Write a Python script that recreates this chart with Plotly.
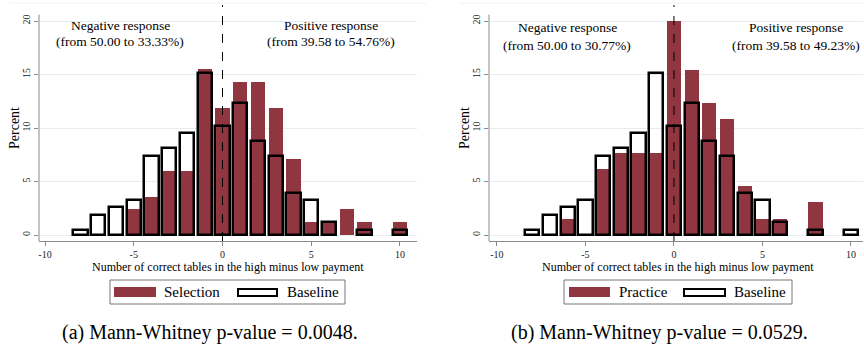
import plotly.graph_objects as go

# ---------------- data ----------------
bins = list(range(-8, 11))  # -8 .. 10
selection = [None, None, None, 2.4, 3.6, 6.0, 6.0, 15.5, 11.9, 14.3, 14.3, 11.9, 7.1, 1.2, 1.2, 2.4, 1.2, None, 1.2]
practice = [None, None, 1.5, None, 6.2, 7.7, 7.7, 7.7, 20.0, 15.4, 12.3, 10.8, 4.6, 1.5, 1.5, None, 3.1, None, None]
baseline = [0.5, 1.9, 2.6, 3.3, 7.4, 8.1, 9.5, 15.1, 10.2, 12.3, 8.8, 7.4, 3.9, 3.3, 1.2, None, 0.5, None, 0.5]

x_tick_vals = [-10, -5, 0, 5, 10]
x_tick_labels = ["-10", "-5", "0", "5", "10"]
y_tick_vals = [0, 5, 10, 15, 20]
y_tick_labels = ["0", "5", "10", "15", "20"]

panels = [
    dict(name="Selection", values=selection,
         neg=("Negative response", "(from 50.00 to 33.33%)"),
         pos=("Positive response", "(from 39.58 to 54.76%)"),
         caption="(a) Mann-Whitney p-value = 0.0048."),
    dict(name="Practice", values=practice,
         neg=("Negative response", "(from 50.00 to 30.77%)"),
         pos=("Positive response", "(from 39.58 to 49.23%)"),
         caption="(b) Mann-Whitney p-value = 0.0529."),
]

# ---------------- style ----------------
W, H = 864, 356
RED = "#8f3640"
GRID = "#e4edf0"
AXIS = "#8a8a8a"
SERIF = "Liberation Serif"


def px(x):
    return x / W


def py(y):
    return 1 - y / H


# per-panel pixel geometry
geo = [
    dict(x0=39, x1=417, xr=[-10.34, 10.96], negx=120, posx=331, ty=(26, 42), title_x=228,
         leg=(110, 345), sw=(114, 156), lab1=(162,), box=(238, 277), lab2=(285,), cap_x=210),
    dict(x0=489, x1=863, xr=[-10.45, 10.68], negx=567, posx=796, ty=(28, 45), title_x=678,
         leg=(564, 792), sw=(569, 610), lab1=(617,), box=(684, 725), lab2=(732,), cap_x=659),
]
Y_TOP, Y_BOT = 5, 241
YR = [-0.56, 21.5]

fig = go.Figure()
shapes = []
annotations = []
layout_axes = {}

for i, (p, g) in enumerate(zip(panels, geo)):
    sfx = "" if i == 0 else str(i + 1)
    xa, ya = "x" + sfx, "y" + sfx
    fig.add_trace(go.Bar(x=bins, y=p["values"], width=0.8, name=p["name"],
                         marker=dict(color=RED, line=dict(width=0)),
                         xaxis=xa, yaxis=ya, showlegend=False))
    fig.add_trace(go.Bar(x=bins, y=baseline, width=0.8, name="Baseline",
                         marker=dict(color="rgba(0,0,0,0)", line=dict(color="black", width=2.5)),
                         xaxis=xa, yaxis=ya, showlegend=False))

    layout_axes["xaxis" + sfx] = dict(
        domain=[px(g["x0"]), px(g["x1"])], range=g["xr"], anchor=ya,
        tickmode="array", tickvals=x_tick_vals, ticktext=x_tick_labels,
        ticks="outside", ticklen=4, tickcolor=AXIS, showgrid=False, zeroline=False,
        showline=True, linecolor=AXIS, linewidth=1,
        tickfont=dict(family=SERIF, size=10, color="#222"), automargin=False)
    layout_axes["yaxis" + sfx] = dict(
        domain=[py(Y_BOT), py(Y_TOP)], range=YR, anchor=xa,
        tickmode="array", tickvals=y_tick_vals, ticktext=y_tick_labels, tickangle=-90,
        ticks="outside", ticklen=4, tickcolor=AXIS, showgrid=True, gridcolor=GRID,
        gridwidth=1, zeroline=False, showline=False,
        tickfont=dict(family=SERIF, size=10, color="#222"), automargin=False)

    # y axis line (stops a bit below the plot top, as in the reference)
    shapes.append(dict(type="line", xref=xa + " domain", yref=ya, x0=0, x1=0,
                       y0=YR[0], y1=20.6, line=dict(color=AXIS, width=1)))
    # dashed line at zero
    shapes.append(dict(type="line", xref=xa, yref=ya + " domain", x0=0, x1=0,
                       y0=0, y1=1, line=dict(color="black", width=1, dash="dash"), layer="above"))
    # faint top border line
    shapes.append(dict(type="line", xref="paper", yref="paper",
                       x0=px(g["x0"] - 30), x1=px(min(g["x1"] + 10, W)), y0=py(3), y1=py(3),
                       line=dict(color="#eef2f4", width=1)))

    # response annotations
    for cx, lines in ((g["negx"], p["neg"]), (g["posx"], p["pos"])):
        for yy, txt in zip(g["ty"], lines):
            annotations.append(dict(xref="paper", yref="paper", x=px(cx), y=py(yy),
                                    text=txt, showarrow=False, xanchor="center", yanchor="middle",
                                    font=dict(family=SERIF, size=13.5, color="black")))
    # y title
    annotations.append(dict(xref="paper", yref="paper", x=px(g["x0"] - 25), y=py(128),
                            text="Percent", textangle=-90, showarrow=False,
                            xanchor="center", yanchor="middle",
                            font=dict(family=SERIF, size=14, color="black")))
    # x title
    annotations.append(dict(xref="paper", yref="paper", x=px(g["title_x"]), y=py(267),
                            text="Number of correct tables in the high minus low payment",
                            showarrow=False, xanchor="center", yanchor="middle",
                            font=dict(family=SERIF, size=12, color="black")))
    # legend box
    lx0, lx1 = g["leg"]
    shapes.append(dict(type="rect", xref="paper", yref="paper", x0=px(lx0), x1=px(lx1),
                       y0=py(304), y1=py(280), line=dict(color="#777", width=1),
                       fillcolor="white"))
    shapes.append(dict(type="rect", xref="paper", yref="paper", x0=px(g["sw"][0]), x1=px(g["sw"][1]),
                       y0=py(297), y1=py(287), line=dict(width=0), fillcolor=RED))
    shapes.append(dict(type="rect", xref="paper", yref="paper", x0=px(g["box"][0]), x1=px(g["box"][1]),
                       y0=py(296), y1=py(289), line=dict(color="black", width=2),
                       fillcolor="rgba(0,0,0,0)"))
    annotations.append(dict(xref="paper", yref="paper", x=px(g["lab1"][0]), y=py(292),
                            text=p["name"], showarrow=False, xanchor="left", yanchor="middle",
                            font=dict(family=SERIF, size=15, color="black")))
    annotations.append(dict(xref="paper", yref="paper", x=px(g["lab2"][0]), y=py(292),
                            text="Baseline", showarrow=False, xanchor="left", yanchor="middle",
                            font=dict(family=SERIF, size=15, color="black")))
    # caption
    annotations.append(dict(xref="paper", yref="paper", x=px(g["cap_x"]), y=py(332),
                            text=p["caption"], showarrow=False, xanchor="center", yanchor="middle",
                            font=dict(family=SERIF, size=20, color="black")))

fig.update_layout(
    width=W, height=H, margin=dict(l=0, r=0, t=0, b=0),
    paper_bgcolor="white", plot_bgcolor="white",
    barmode="overlay", bargap=0, showlegend=False,
    shapes=shapes, annotations=annotations, **layout_axes)

fig.write_html("out.html", config={"displayModeBar": False},
               post_script="document.body.style.margin='0px';document.body.style.padding='0px';")
